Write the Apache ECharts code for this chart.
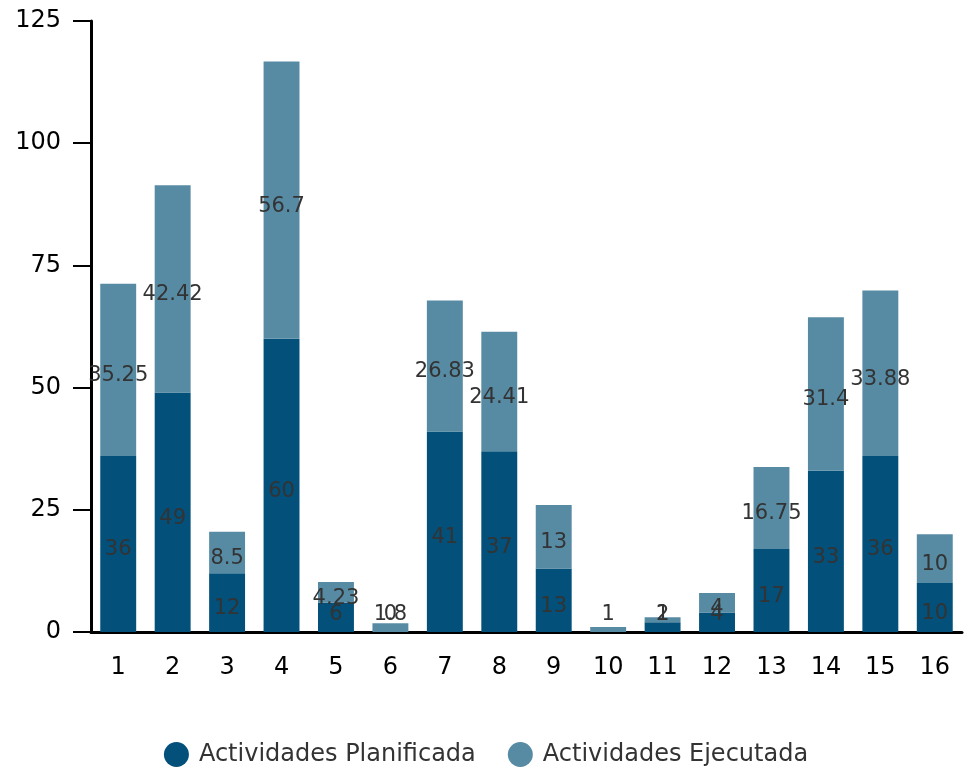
<!DOCTYPE html>
<html>
<head>
<meta charset="utf-8">
<script src="https://cdn.jsdelivr.net/npm/echarts@6/dist/echarts.min.js"></script>
<style>
  html, body { margin: 0; padding: 0; background: #fff; }
  #main { width: 972px; height: 767px; }
</style>
</head>
<body>
<div id="main"></div>
<script>
// datos del gráfico
var categorias = ['1','2','3','4','5','6','7','8','9','10','11','12','13','14','15','16'];
var planificadas = [36, 49, 12, 60, 6, 0, 41, 37, 13, '-', 2, 4, 17, 33, 36, 10];
var ejecutadas = [35.25, 42.42, 8.5, 56.7, 4.23, 1.8, 26.83, 24.41, 13, 1, 1, 4, 16.75, 31.4, 33.88, 10];
var yTicks = [0, 25, 50, 75, 100, 125];

var fuente = '"DejaVu Sans", sans-serif';

var myChart = echarts.init(document.getElementById('main'));

function etiqueta() {
  return {
    show: true,
    position: 'inside',
    offset: [0, 6],
    color: '#333',
    fontSize: 21,
    fontFamily: fuente
  };
}

var option = {
  animation: false,
  grid: { left: 91, right: 10, top: 21, bottom: 135 },
  legend: {
    top: 737,
    icon: 'circle',
    itemWidth: 25,
    itemHeight: 25,
    itemGap: 32,
    textStyle: { fontSize: 24, color: '#333', fontFamily: fuente, padding: [0, 0, 0, 5] },
    data: ['Actividades Planificada', 'Actividades Ejecutada']
  },
  xAxis: {
    type: 'category',
    data: categorias,
    axisLine: { lineStyle: { color: '#000', width: 3 } },
    axisTick: { alignWithLabel: true, length: 18, lineStyle: { color: '#000', width: 2 } },
    axisLabel: { color: '#000', fontSize: 24, margin: 24, fontFamily: fuente }
  },
  yAxis: {
    type: 'value',
    min: yTicks[0],
    max: yTicks[yTicks.length - 1],
    interval: 25,
    splitLine: { show: false },
    axisLine: { show: true, lineStyle: { color: '#000', width: 3 } },
    axisTick: { show: true, length: 18, lineStyle: { color: '#000', width: 2 } },
    axisLabel: { color: '#000', fontSize: 24, margin: 30, fontFamily: fuente }
  },
  series: [
    {
      name: 'Actividades Planificada',
      type: 'bar',
      stack: 'total',
      barWidth: '66%',
      itemStyle: { color: '#03507a' },
      label: etiqueta(),
      data: planificadas
    },
    {
      name: 'Actividades Ejecutada',
      type: 'bar',
      stack: 'total',
      barWidth: '66%',
      itemStyle: { color: '#578ba4' },
      label: etiqueta(),
      data: ejecutadas
    }
  ]
};

myChart.setOption(option);

// las etiquetas de segmentos pequeños no bajan del eje (como en el original)
var ySuelo = myChart.convertToPixel({ gridIndex: 0 }, [0, 0])[1];
var series = [planificadas, ejecutadas];
var base = categorias.map(function () { return 0; });
var nuevas = series.map(function (arr) {
  return arr.map(function (v, j) {
    if (v === '-') return v;
    var centro = base[j] + v / 2;
    base[j] += v;
    var py = myChart.convertToPixel({ gridIndex: 0 }, [j, centro])[1];
    var destino = Math.min(py + 6, ySuelo - 17);
    return { value: v, label: { offset: [0, destino - py] } };
  });
});
myChart.setOption({ series: [{ data: nuevas[0] }, { data: nuevas[1] }] });
</script>
</body>
</html>
